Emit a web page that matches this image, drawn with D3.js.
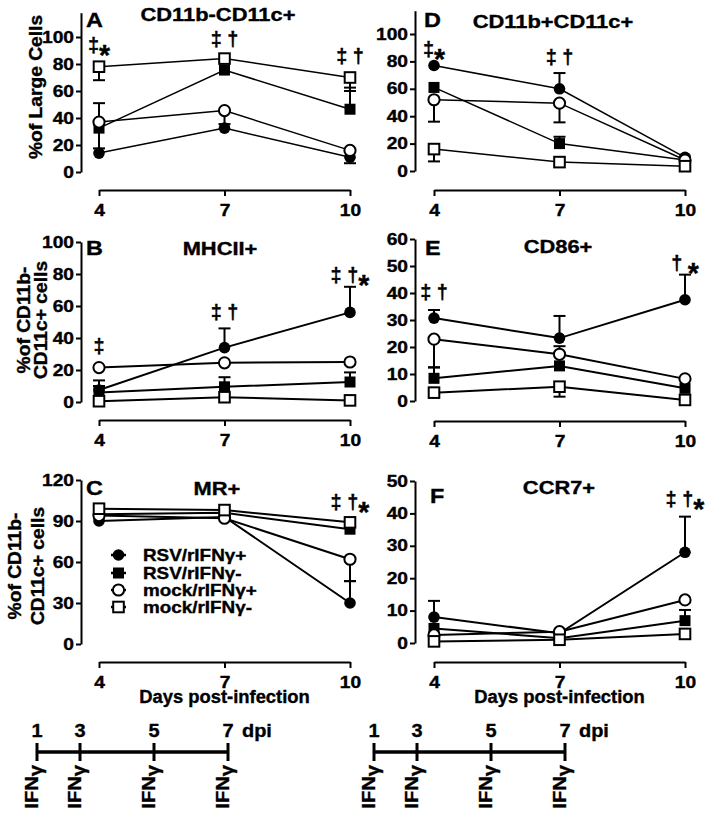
<!DOCTYPE html>
<html><head><meta charset="utf-8">
<script src="https://cdn.jsdelivr.net/npm/d3@7"></script>
<style>
body{margin:0;background:#fff}
svg{display:block}
text{font-family:"Liberation Sans",Arial,Helvetica,sans-serif;font-weight:bold;fill:#000;stroke:#000;stroke-width:0.35px}
</style>
</head><body>
<svg id="c" width="714" height="817"></svg>
<script>
// ---------------- DATA ----------------
const days = [4, 7, 10];
const groups = ["RSV/rIFNγ+", "RSV/rIFNγ-", "mock/rIFNγ+", "mock/rIFNγ-"];
const xTitle = "Days post-infection";

// order of series in every panel: RSV/rIFNγ+, RSV/rIFNγ-, mock/rIFNγ+, mock/rIFNγ-
// errors: signed SEM (positive = drawn up, negative = drawn down, 0 = none)
const valuesA = [[14, 32.5, 11], [32.5, 75.5, 46.5], [37, 45.5, 16], [78, 84, 70]];
const errorsA = [[0, 0, -4.5], [-15, 0, 16], [14, -10, 0], [-10, 0, -10]];
const ticksA = [0, 20, 40, 60, 80, 100];
const notesA = ["‡*", "‡ †", "‡ †"];

const valuesD = [[77, 60, 10], [61, 20, 8], [52, 49.5, 8], [16, 6.5, 3.5]];
const errorsD = [[0, 11.5, 0], [0, 5, 0], [-16, -14, 0], [-9, 0, 0]];
const ticksD = [0, 20, 40, 60, 80, 100];
const notesD = ["‡*", "‡ †", ""];

const valuesB = [[7.5, 34, 56], [6, 9.5, 12.5], [21.5, 24.5, 25], [0.5, 3, 1]];
const errorsB = [[6, 12, 16], [4, 6, 6], [0, 0, 0], [0, 0, 0]];
const ticksB = [0, 20, 40, 60, 80, 100];
const notesB = ["‡", "‡ †", "‡ †*"];

const valuesE = [[30.7, 23.3, 37.5], [8.4, 13, 4.7], [22.9, 17.3, 8.2], [3.1, 5.3, 0.4]];
const errorsE = [[3, 8.2, 9.3], [4.1, 0, 0], [-10.5, 3, 0], [0, -3.7, 0]];
const ticksE = [0, 10, 20, 30, 40, 50, 60];
const notesE = ["‡ †", "", "† *"];

const valuesC = [[90, 93, 30], [95, 96, 84], [94, 92, 62], [99, 98, 89]];
const errorsC = [[0, 0, 16], [0, 0, 0], [0, 0, -16], [0, 0, 0]];
const ticksC = [0, 30, 60, 90, 120];
const notesC = ["", "", "‡ †*"];

const valuesF = [[8, 3, 28], [4.5, 1.5, 6.9], [2.5, 3.5, 13.3], [0.5, 1, 2.8]];
const errorsF = [[5, 0, 11], [0, 0, 3.3], [0, 0, 0], [0, 0, 0]];
const ticksF = [0, 10, 20, 30, 40, 50];
const notesF = ["", "", "‡ †*"];

const doseDays = [1, 3, 5, 7];
const doseLabel = "IFNγ";
const doseUnit = "dpi";

// ---------------- LAYOUT ----------------
const layout = [
  {id:"A", title:"CD11b-CD11c+", data:[valuesA, errorsA, ticksA, notesA], xr:[99,350], yx:81, y0:172, yT:37, tMax:100, aMax:118, xAxisY:190, lw:1.5,
   noteV:[93,98,85], titleX:218, titleY:21, letX:86, letY:27, ylab:["%of Large Cells"], ylabX:[42], ylabY:87, xlab:false},
  {id:"D", title:"CD11b+CD11c+", data:[valuesD, errorsD, ticksD, notesD], xr:[434,685], yx:415, y0:171, yT:34, tMax:100, aMax:117, xAxisY:190, lw:1.5,
   noteV:[88,82.5,0], titleX:553, titleY:28, letX:424, letY:27, ylab:[], xlab:false},
  {id:"B", title:"MHCII+", data:[valuesB, errorsB, ticksB, notesB], xr:[99,350], yx:81, y0:402, yT:242, tMax:100, aMax:100, xAxisY:420, lw:2,
   noteV:[34,55.6,78.8], titleX:220, titleY:255, letX:86, letY:255, ylab:["%of CD11b-","CD11c+ cells"], ylabX:[30,47], ylabY:320, xlab:false},
  {id:"E", title:"CD86+", data:[valuesE, errorsE, ticksE, notesE], xr:[434,685], yx:415, y0:401, yT:239, tMax:60, aMax:60, xAxisY:421, lw:2,
   noteV:[40,0,50.7], titleX:558, titleY:253, letX:425, letY:255, ylab:[], xlab:false},
  {id:"C", title:"MR+", data:[valuesC, errorsC, ticksC, notesC], xr:[99,350], yx:81, y0:644, yT:480, tMax:120, aMax:120, xAxisY:662, lw:2,
   noteV:[0,0,103], titleX:217, titleY:495, letX:86, letY:495, ylab:["%of CD11b-","CD11c+ cells"], ylabX:[21,44], ylabY:566, xlab:true, legend:true},
  {id:"F", title:"CCR7+", data:[valuesF, errorsF, ticksF, notesF], xr:[434,685], yx:415, y0:643, yT:481, tMax:50, aMax:50, xAxisY:662, lw:2,
   noteV:[0,0,44], titleX:559, titleY:494, letX:430, letY:503, ylab:[], xlab:true}
];

const svg = d3.select("#c");
const SX = 1.2;

function label(parent, x, y, str, size, sx, anchor, rot) {
  return parent.append("text")
    .attr("transform", `translate(${x},${y}) rotate(${rot || 0}) scale(${sx},1)`)
    .attr("text-anchor", anchor || "start")
    .attr("font-size", size)
    .text(str);
}

function note(parent, x, y, str) {
  if (!str) return;
  const t = parent.append("text")
    .attr("transform", `translate(${x},${y}) scale(0.95,1)`)
    .attr("text-anchor", "middle").attr("font-size", 21).attr("dy", "0.28em");
  const parts = str.split("*");
  t.append("tspan").text(parts[0]);
  if (str.includes("*")) t.append("tspan").attr("font-size", 30).attr("dy", 13).text("*");
}

function marker(g, kind, cx, cy) {
  if (kind === 0) g.append("circle").attr("cx", cx).attr("cy", cy).attr("r", 5.8).attr("fill", "#000");
  else if (kind === 1) g.append("rect").attr("x", cx - 5.5).attr("y", cy - 5.5).attr("width", 11).attr("height", 11).attr("fill", "#000");
  else if (kind === 2) g.append("circle").attr("cx", cx).attr("cy", cy).attr("r", 5.6).attr("fill", "#fff").attr("stroke", "#000").attr("stroke-width", 2);
  else g.append("rect").attr("x", cx - 5.3).attr("y", cy - 5.3).attr("width", 10.6).attr("height", 10.6).attr("fill", "#fff").attr("stroke", "#000").attr("stroke-width", 2);
}

layout.forEach(p => {
  const [vals, errs, ticks, notes] = p.data;
  const g = svg.append("g");
  const x = d3.scaleLinear().domain([days[0], days[days.length - 1]]).range(p.xr);
  const y = d3.scaleLinear().domain([0, p.tMax]).range([p.y0, p.yT]);
  const yAxisScale = y.copy().domain([0, p.aMax]).range([p.y0, y(p.aMax)]);

  // y axis
  const ya = g.append("g").attr("transform", `translate(${p.yx},0)`)
    .call(d3.axisLeft(yAxisScale).tickValues(ticks).tickSize(5).tickSizeOuter(0).tickPadding(2));
  ya.attr("font-family", null).attr("font-size", 16);
  ya.selectAll("path,line").attr("stroke", "#000").attr("stroke-width", 2);
  ya.selectAll("text").attr("x", -7 / SX).attr("transform", `scale(${SX},1)`).attr("fill", "#000");

  // x axis
  const xa = g.append("g").attr("transform", `translate(0,${p.xAxisY})`)
    .call(d3.axisBottom(x).tickValues(days).tickFormat(d3.format("d")).tickSize(6).tickSizeOuter(0).tickPadding(9));
  xa.attr("font-family", null).attr("font-size", 16);
  xa.selectAll("path,line").attr("stroke", "#000").attr("stroke-width", 2);
  xa.selectAll("text").attr("transform", `scale(${SX},1)`).attr("fill", "#000");

  // lines
  const line = d3.line().x((d, i) => x(days[i])).y(d => y(d));
  vals.forEach(s => {
    g.append("path").attr("d", line(s)).attr("fill", "none").attr("stroke", "#000").attr("stroke-width", p.lw);
  });
  // error bars
  vals.forEach((s, k) => {
    s.forEach((v, i) => {
      const e = errs[k][i];
      if (!e) return;
      const cx = x(days[i]);
      g.append("line").attr("x1", cx).attr("x2", cx).attr("y1", y(v)).attr("y2", y(v + e)).attr("stroke", "#000").attr("stroke-width", 2);
      g.append("line").attr("x1", cx - 6).attr("x2", cx + 6).attr("y1", y(v + e)).attr("y2", y(v + e)).attr("stroke", "#000").attr("stroke-width", 2);
    });
  });
  // markers
  vals.forEach((s, k) => s.forEach((v, i) => marker(g, k, x(days[i]), y(v))));

  // notes
  notes.forEach((n, i) => note(g, x(days[i]), y(p.noteV[i]), n));

  // title & letter
  label(g, p.titleX, p.titleY, p.title, 17.5, 1.25, "middle");
  label(g, p.letX, p.letY, p.id, 19.5, 1.2, "start");

  // y label
  p.ylab.forEach((t, i) => label(g, p.ylabX[i], p.ylabY, t, 17.5, 1.1, "middle", -90));

  if (p.xlab) label(g, (p.xr[0] + p.xr[1]) / 2, 703, xTitle, 17.5, 1.05, "middle");

  if (p.legend) {
    const rows = [555, 573, 590, 607];
    groups.forEach((gName, k) => {
      g.append("line").attr("x1", 111).attr("x2", 126).attr("y1", rows[k]).attr("y2", rows[k]).attr("stroke", "#000").attr("stroke-width", 2.5);
      marker(g, k, 118.5, rows[k]);
      label(g, 143, rows[k], gName, 16, 1.18, "start").attr("dy", "0.36em");
    });
  }
});

// ---------------- dosing timelines ----------------
[37, 374].forEach(x0 => {
  const g = svg.append("g");
  const t = d3.scaleLinear().domain([1, 3, 7]).range([x0, x0 + 43, x0 + 191]);
  const ty = 752;
  g.append("line").attr("x1", t(doseDays[0])).attr("x2", t(doseDays[doseDays.length - 1])).attr("y1", ty).attr("y2", ty)
    .attr("stroke", "#000").attr("stroke-width", 3.5);
  doseDays.forEach(d => {
    g.append("line").attr("x1", t(d)).attr("x2", t(d)).attr("y1", ty - 9).attr("y2", ty + 9).attr("stroke", "#000").attr("stroke-width", 3);
    label(g, t(d), 737, String(d), 19, 1.05, "middle");
    const lt = g.append("text")
      .attr("transform", `translate(${t(d) + 1},765) rotate(-90) scale(1.12,1)`)
      .attr("text-anchor", "end").attr("font-size", 18);
    lt.append("tspan").text(doseLabel.slice(0, 3));
    lt.append("tspan").attr("dy", 4).text(doseLabel.slice(3));
  });
  label(g, t(7) + 14, 737, doseUnit, 19, 1.05, "start");
});
</script>
</body></html>
